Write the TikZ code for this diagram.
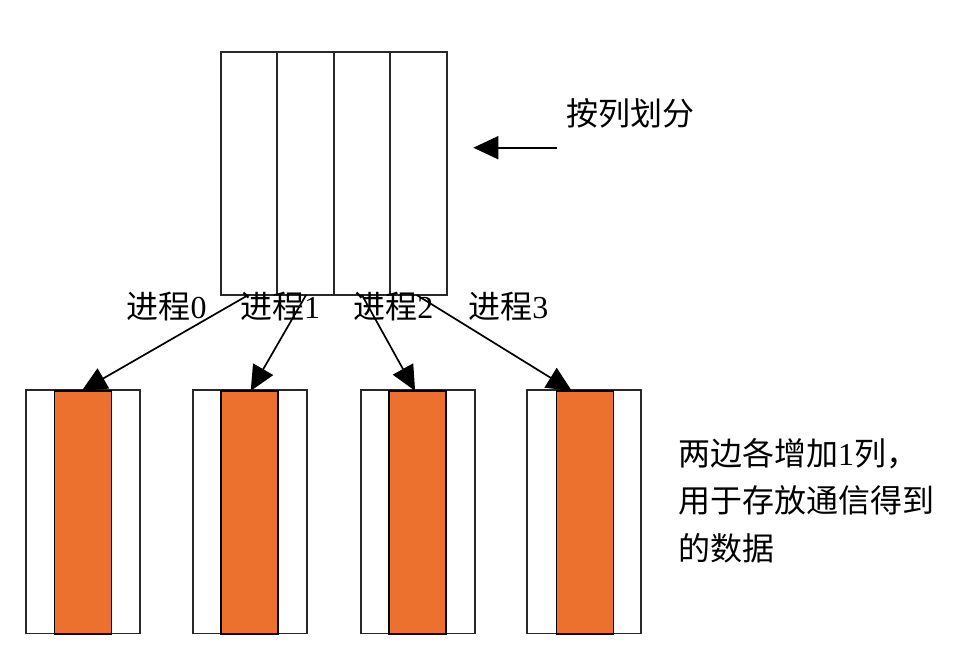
\documentclass[tikz,border=0pt]{standalone}
\usepackage{fontspec}
\setmainfont{Liberation Serif}
\newfontfamily\cjk{Noto Sans CJK SC}
\usetikzlibrary{arrows.meta}
\definecolor{fillorange}{RGB}{236,112,46}
\definecolor{edgegray}{RGB}{40,40,40}
\tikzset{
  colbox/.style={draw=edgegray, line width=0.85pt, fill=white, inner sep=0pt, outer sep=0pt,
    minimum width=28.25pt, minimum height=121.65pt},
  outerbox/.style={draw=edgegray, line width=0.85pt, fill=white, inner sep=0pt, outer sep=0pt,
    minimum width=57pt, minimum height=121.65pt},
  corebox/.style={draw=black, line width=0.85pt, fill=fillorange, inner sep=0pt, outer sep=0pt,
    minimum width=28.5pt, minimum height=121.65pt},
  lbl/.style={inner sep=0pt, outer sep=0pt, font=\fontsize{16pt}{19pt}\selectfont, anchor=west},
  conn/.style={draw=black, line width=0.85pt, -{Triangle[length=12.5pt,width=11.5pt]}}
}
\begin{document}
\begin{tikzpicture}[x=0.5pt,y=-0.5pt]
\useasboundingbox (0,0) rectangle (958,644);
% top matrix split into 4 columns
\node[colbox] (c0) at (248.95,173.35) {};
\node[colbox] (c1) at (305.45,173.35) {};
\node[colbox] (c2) at (361.95,173.35) {};
\node[colbox] (c3) at (418.45,173.35) {};
% bottom blocks
\node[outerbox] (o0) at (83,511.7) {};
\node[outerbox] (o1) at (250.3,511.7) {};
\node[outerbox] (o2) at (417.7,511.7) {};
\node[outerbox] (o3) at (584.3,511.7) {};
\node[corebox] (p0) at (83,512.5) {};
\node[corebox] (p1) at (249.7,512.5) {};
\node[corebox] (p2) at (417.7,512.5) {};
\node[corebox] (p3) at (585,512.5) {};
% labels
\node[lbl] (l0) at (126.7,307) {{\cjk 进程}0};
\node[lbl] (l1) at (240,307) {{\cjk 进程}1};
\node[lbl] (l2) at (353.3,307) {{\cjk 进程}2};
\node[lbl] (l3) at (468.3,307) {{\cjk 进程}3};
\node[lbl] (title) at (566,113.3) {\cjk 按列划分};
\node[lbl, align=left, font=\fontsize{16pt}{23.75pt}\selectfont] (note) at (678,500.7)
  {{\cjk 两边各增加}1{\cjk 列，}\\{\cjk 用于存放通信得到}\\{\cjk 的数据}};
% arrows
\draw[conn] ([xshift=-0.3pt]c0.south) -- ([xshift=-0.65pt]p0.north);
\draw[conn] ([xshift=0.3pt]c1.south) -- ([xshift=0.5pt]p1.north);
\draw[conn] (c2.south) -- ([xshift=-1.3pt]p2.north);
\draw[conn] ([xshift=-0.9pt]c3.south) -- ([xshift=-6.6pt]p3.north);
\coordinate (hs) at (556.7,147.7);
\coordinate (he) at (473.3,147.7);
\draw[conn] (hs) -- (he);
\end{tikzpicture}
\end{document}
